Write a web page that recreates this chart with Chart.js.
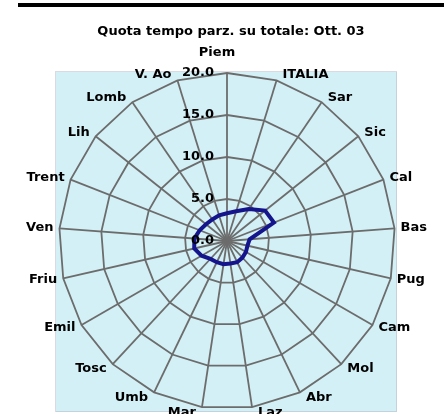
<!DOCTYPE html>
<html><head><meta charset="utf-8">
<script src="https://cdn.jsdelivr.net/npm/chart.js@4.4.1/dist/chart.umd.min.js"></script>
<style>html,body{margin:0;padding:0;background:#fff;}#wrap{width:444px;height:414px;position:relative;}</style>
</head><body><div id="wrap"><canvas id="c" width="444" height="414"></canvas></div>
<script>
const titleText = 'Quota tempo parz. su totale: Ott. 03';
const categories = ['Piem','ITALIA','Sar','Sic','Cal','Bas','Pug','Cam','Mol','Abr','Laz','Mar','Umb','Tosc','Emil','Friu','Ven','Trent','Lih','Lomb','V. Ao'];
const quotaOtt03 = [3.3,3.7,4.6,5.8,6.0,2.7,2.5,2.6,2.7,2.8,2.7,2.8,2.8,2.9,3.5,4.0,3.9,3.5,3.2,3.1,3.2];
const tickValues = [0,5,10,15,20];
const tickLabels = ['0.0','5.0','10.0','15.0','20.0'];

const FONT = 'bold 13px "DejaVu Sans"';

const deco = {
  id:'deco',
  beforeDraw(chart){
    const ctx = chart.ctx;
    ctx.save();
    ctx.fillStyle='#ffffff'; ctx.fillRect(0,0,444,414);
    ctx.fillStyle='#000000'; ctx.fillRect(18,3,426,4);
    ctx.fillStyle='#d3f0f6'; ctx.fillRect(56,72,341,340);
    ctx.strokeStyle='#b4b4c4'; ctx.lineWidth=1; ctx.setLineDash([1,1]);
    ctx.strokeRect(55.5,71.5,341,340);
    ctx.setLineDash([]);
    ctx.font = FONT; ctx.fillStyle='#000'; ctx.textAlign='center'; ctx.textBaseline='middle';
    ctx.fillText(titleText, 231, 32);
    ctx.restore();
  },
  afterDatasetsDraw(chart){
    const ctx = chart.ctx, s = chart.scales.r;
    ctx.save();
    ctx.font = FONT; ctx.fillStyle='#000'; ctx.textBaseline='middle';
    categories.forEach((lab,i)=>{
      const p = s.getPointPositionForValue(i, s.max);
      const a = s.getIndexAngle(i);
      const sn = Math.sin(a), cs = Math.cos(a);
      let x = p.x, y = p.y - 6*cs;
      if (i===0){ ctx.textAlign='center'; x = p.x - 10; y = p.y - 20; }
      else if (sn>0){ ctx.textAlign='left'; x += 6; }
      else { ctx.textAlign='right'; x -= 6; }
      ctx.fillText(lab, x, y);
    });
    ctx.textAlign='right';
    tickValues.forEach((v,k)=>{
      const d = s.getDistanceFromCenterForValue(v);
      ctx.fillText(tickLabels[k], s.xCenter - 13, s.yCenter - d);
    });
    ctx.restore();
  }
};

new Chart(document.getElementById('c'), {
  type:'radar',
  data:{ labels:categories, datasets:[{
    label:titleText, data:quotaOtt03, borderColor:'#14148c', borderWidth:4,
    backgroundColor:'rgba(0,0,0,0)', fill:false, pointRadius:0, pointHoverRadius:0, tension:0
  }]},
  options:{
    responsive:false, animation:false, devicePixelRatio:1,
    layout:{ padding:{ left:59, right:49, top:73, bottom:5 } },
    plugins:{ legend:{display:false}, title:{display:false}, tooltip:{enabled:false} },
    scales:{ r:{
      min:0, max:20, beginAtZero:true,
      ticks:{ display:false, stepSize:5 },
      grid:{ circular:false, color:'#6c6c6c', lineWidth:1.8 },
      angleLines:{ display:true, color:'#6c6c6c', lineWidth:1.8 },
      pointLabels:{ display:false }
    }}
  },
  plugins:[deco]
});
</script></body></html>
